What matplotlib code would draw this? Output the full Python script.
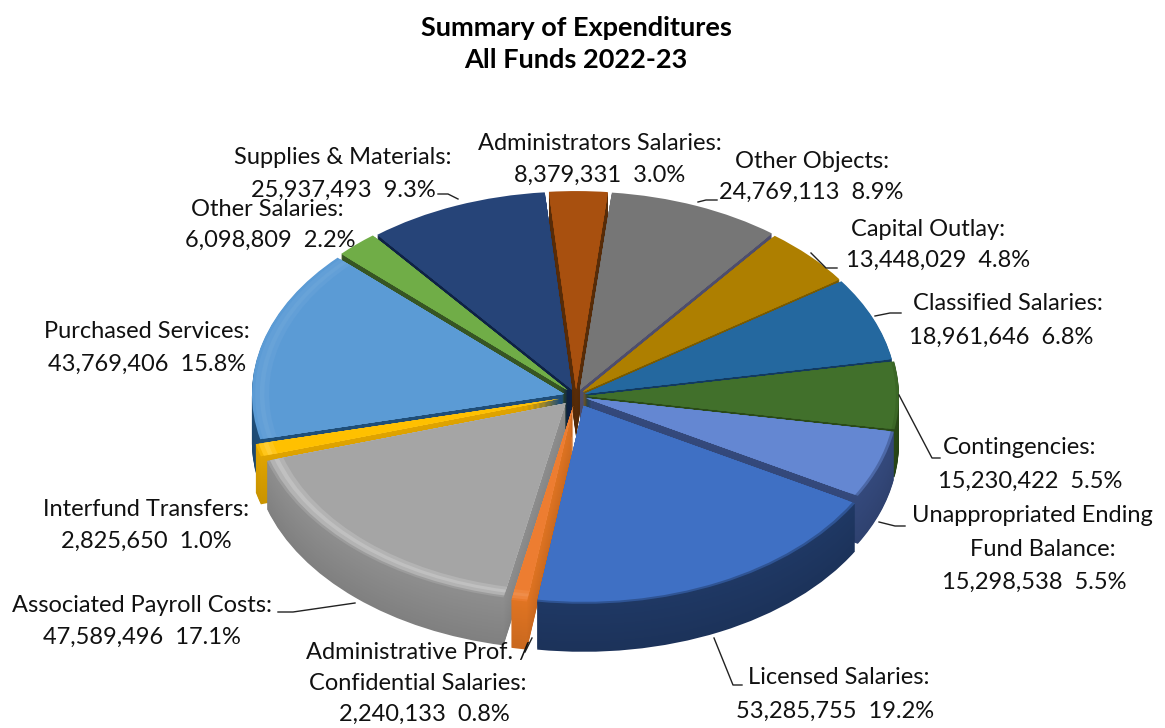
import matplotlib
matplotlib.use("Agg")
import matplotlib.pyplot as plt
from matplotlib.colors import to_rgb

plt.rcParams['font.family'] = ['Lato', 'DejaVu Sans']

categories = ["Administrators Salaries", "Other Objects", "Capital Outlay", "Classified Salaries",
              "Contingencies", "Unappropriated Ending Fund Balance", "Licensed Salaries",
              "Administrative Prof. / Confidential Salaries", "Associated Payroll Costs",
              "Interfund Transfers", "Purchased Services", "Other Salaries", "Supplies & Materials"]
amounts = [8379331, 24769113, 13448029, 18961646, 15230422, 15298538, 53285755,
           2240133, 47589496, 2825650, 43769406, 6098809, 25937493]
percents = ["3.0", "8.9", "4.8", "6.8", "5.5", "5.5", "19.2", "0.8", "17.1", "1.0", "15.8", "2.2", "9.3"]

top_colors = ["#A8500F", "#767676", "#AE7F00", "#24689F", "#41702B", "#6487D2", "#3F70C4",
              "#ED7D31", "#A5A5A5", "#FFC000", "#5B9BD5", "#70AD47", "#264478"]
side_colors = ["#5A2D08", "#4E4E6E", "#7A5A00", "#123A60", "#2A4A18", "#34497C", "#1F3864",
               "#E07422", "#8E8E8E", "#E0A400", "#1F4E79", "#375623", "#0E2245"]
explode = [0.035, 0.035, 0.03, 0.03, 0.035, 0.035, 0.055, 0.05, 0.05, 0.055, 0.04, 0.04, 0.035]
bevel = [0, 0, 0, 0, 0, 0, 0, 0.12, 0.3, 0.2, 0.08, 0, 0]
rim_dark = [0, 0, 0, 0, 0.25, 0.5, 0.5, 0.3, 0.4, 0.4, 0, 0, 0]

# pixel geometry of the pie
W, H = 1165, 728
cx, cy = 576, 396
rx, ry = 312, 198
depth = 48


def mix(c1, c2, t):
    a, b = to_rgb(c1), to_rgb(c2)
    return tuple(a[i] * (1 - t) + b[i] * t for i in range(3))


fig = plt.figure(figsize=(W / 100, H / 100), dpi=100)
ax = fig.add_axes([0, 0, 1, 1])


def draw(colors, dy=0.0, radius=1.0):
    ax.pie(amounts, colors=colors, explode=explode, startangle=95, counterclock=False,
           center=(0, -dy / ry), radius=radius, wedgeprops={"linewidth": 0})


# side walls, bottom to top, then soft rim and the top face
for k in range(depth, 0, -1):
    t = k / depth
    draw([mix(s, "#000000", 0.10 * t) for s in side_colors], dy=k)
draw([mix(c, s, d) for c, s, d in zip(top_colors, side_colors, rim_dark)], radius=1.0)
draw([mix(c, "#FFFFFF", b * 0.5) for c, b in zip(top_colors, bevel)], radius=0.99)
draw([mix(c, "#FFFFFF", b) for c, b in zip(top_colors, bevel)], radius=0.975)
draw([mix(c, "#FFFFFF", b * 0.5) for c, b in zip(top_colors, bevel)], radius=0.96)
draw(top_colors, radius=0.945)

ax.set_aspect('auto')
ax.set_xlim(-cx / rx, (W - cx) / rx)
ax.set_ylim(-(H - cy) / ry, cy / ry)
ax.axis('off')

# overlay in picture pixels for the texts and leader lines
ov = fig.add_axes([0, 0, 1, 1])
ov.set_xlim(0, W)
ov.set_ylim(H, 0)
ov.axis('off')
ov.patch.set_alpha(0)

ov.text(576, 28, "Summary of Expenditures", fontsize=19.5, fontweight='bold', ha='center', va='center')
ov.text(576, 60, "All Funds 2022-23", fontsize=19.5, fontweight='bold', ha='center', va='center')


def val(i):
    return f"{amounts[i]:,}  {percents[i]}%"


labels = [
    ("Administrators Salaries:", 600, 143), (val(0), 600, 175),
    ("Other Objects:", 812, 162), (val(1), 811, 192),
    ("Capital Outlay:", 928, 229), (val(2), 938, 260),
    ("Classified Salaries:", 1008, 304), (val(3), 1001, 337),
    ("Contingencies:", 1020, 448), (val(4), 1030, 481),
    ("Unappropriated Ending", 1032, 516), ("Fund Balance:", 1043, 549), (val(5), 1034, 582),
    ("Licensed Salaries:", 839, 678), (val(6), 835, 711),
    ("Administrative Prof. /", 418, 652), ("Confidential Salaries:", 418, 683), (val(7), 424, 714),
    ("Associated Payroll Costs:", 142, 605), (val(8), 142, 637),
    ("Interfund Transfers:", 146, 510), (val(9), 146, 541),
    ("Purchased Services:", 147, 331), (val(10), 147, 364),
    ("Supplies & Materials:", 343, 158), (val(12), 343, 190),
    ("Other Salaries:", 267, 209), (val(11), 270, 240),
]
for s, x, y in labels:
    ov.text(x, y, s, fontsize=17, ha='center', va='center', color='#111111')

leaders = [
    ([438, 448, 458], [194, 194, 199]),
    ([698, 706, 717], [202, 200, 200]),
    ([811, 826, 837], [253, 268, 268]),
    ([875, 890, 901], [316, 313, 313]),
    ([899, 932, 940], [395, 458, 458]),
    ([879, 895, 905], [522, 526, 526]),
    ([714, 733, 742], [638, 685, 685]),
    ([532, 525], [638, 652]),
    ([278, 293, 355], [612, 612, 603]),
]
for xs, ys in leaders:
    ov.plot(xs, ys, color='#222222', lw=1.0)

fig.savefig("out.png", dpi=100)
